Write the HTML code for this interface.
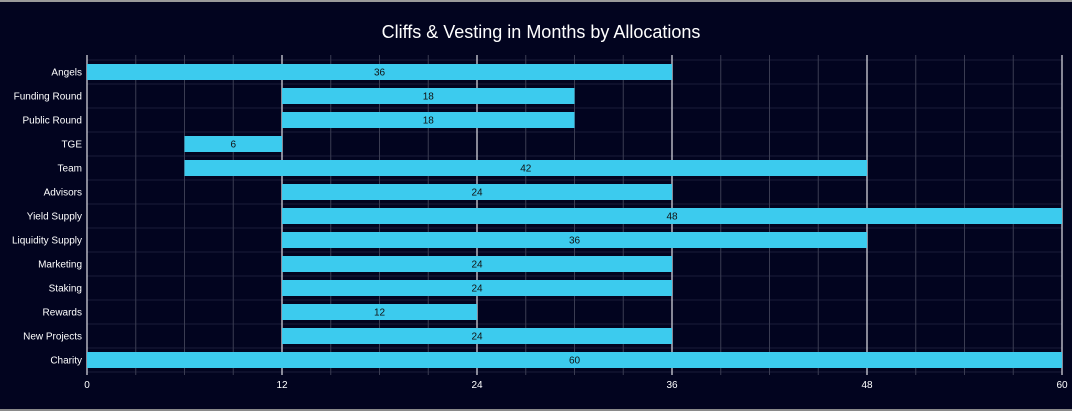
<!DOCTYPE html><html><head><style>body{margin:0;background:#02041f;}svg{display:block}</style></head><body>
<svg width="1072" height="411" xmlns="http://www.w3.org/2000/svg" font-family="Liberation Sans, sans-serif">
<rect width="1072" height="411" fill="#02041f"/>
<rect width="1072" height="2" fill="#9a9a9a"/>
<rect y="409" width="1072" height="2" fill="#8a8a8a"/>
<text x="541" y="38" fill="#fff" font-size="18" text-anchor="middle">Cliffs &amp; Vesting in Months by Allocations</text>
<g stroke="#1a1c3a">
<line x1="87" x2="1062" y1="60" y2="60"/><line x1="87" x2="1062" y1="84" y2="84"/><line x1="87" x2="1062" y1="108" y2="108"/><line x1="87" x2="1062" y1="132" y2="132"/><line x1="87" x2="1062" y1="156" y2="156"/><line x1="87" x2="1062" y1="180" y2="180"/><line x1="87" x2="1062" y1="204" y2="204"/><line x1="87" x2="1062" y1="228" y2="228"/><line x1="87" x2="1062" y1="252" y2="252"/><line x1="87" x2="1062" y1="276" y2="276"/><line x1="87" x2="1062" y1="300" y2="300"/><line x1="87" x2="1062" y1="324" y2="324"/><line x1="87" x2="1062" y1="348" y2="348"/><line x1="87" x2="1062" y1="372" y2="372"/>
</g>
<g stroke="#3a3c52">
<line x1="135.75" x2="135.75" y1="55" y2="375"/><line x1="184.5" x2="184.5" y1="55" y2="375"/><line x1="233.25" x2="233.25" y1="55" y2="375"/>
<line x1="330.75" x2="330.75" y1="55" y2="375"/><line x1="379.5" x2="379.5" y1="55" y2="375"/><line x1="428.25" x2="428.25" y1="55" y2="375"/>
<line x1="525.75" x2="525.75" y1="55" y2="375"/><line x1="574.5" x2="574.5" y1="55" y2="375"/><line x1="623.25" x2="623.25" y1="55" y2="375"/>
<line x1="720.75" x2="720.75" y1="55" y2="375"/><line x1="769.5" x2="769.5" y1="55" y2="375"/><line x1="818.25" x2="818.25" y1="55" y2="375"/>
<line x1="915.75" x2="915.75" y1="55" y2="375"/><line x1="964.5" x2="964.5" y1="55" y2="375"/><line x1="1013.25" x2="1013.25" y1="55" y2="375"/>
</g>
<g stroke="#cfd0d8" stroke-width="1.3">
<line x1="87" x2="87" y1="55" y2="375"/><line x1="282" x2="282" y1="55" y2="375"/><line x1="477" x2="477" y1="55" y2="375"/><line x1="672" x2="672" y1="55" y2="375"/><line x1="867" x2="867" y1="55" y2="375"/><line x1="1062" x2="1062" y1="55" y2="375"/>
</g>
<g fill="#fff" font-size="10" text-anchor="middle">
<text x="87" y="388">0</text><text x="282" y="388">12</text><text x="477" y="388">24</text><text x="672" y="388">36</text><text x="867" y="388">48</text><text x="1062" y="388">60</text>
</g>
<g fill="#3ccbee">
<rect x="87" y="64" width="585" height="16"/>
<rect x="282" y="88" width="292.5" height="16"/>
<rect x="282" y="112" width="292.5" height="16"/>
<rect x="184.5" y="136" width="97.5" height="16"/>
<rect x="184.5" y="160" width="682.5" height="16"/>
<rect x="282" y="184" width="390" height="16"/>
<rect x="282" y="208" width="780" height="16"/>
<rect x="282" y="232" width="585" height="16"/>
<rect x="282" y="256" width="390" height="16"/>
<rect x="282" y="280" width="390" height="16"/>
<rect x="282" y="304" width="195" height="16"/>
<rect x="282" y="328" width="390" height="16"/>
<rect x="87" y="352" width="975" height="16"/>
</g>
<g fill="#fff" font-size="10" text-anchor="end">
<text x="82" y="75.5">Angels</text><text x="82" y="99.5">Funding Round</text><text x="82" y="123.5">Public Round</text><text x="82" y="147.5">TGE</text><text x="82" y="171.5">Team</text><text x="82" y="195.5">Advisors</text><text x="82" y="219.5">Yield Supply</text><text x="82" y="243.5">Liquidity Supply</text><text x="82" y="267.5">Marketing</text><text x="82" y="291.5">Staking</text><text x="82" y="315.5">Rewards</text><text x="82" y="339.5">New Projects</text><text x="82" y="363.5">Charity</text>
</g>
<g fill="#111" font-size="10" text-anchor="middle">
<text x="379.5" y="75.5">36</text><text x="428.25" y="99.5">18</text><text x="428.25" y="123.5">18</text><text x="233.25" y="147.5">6</text><text x="525.75" y="171.5">42</text><text x="477" y="195.5">24</text><text x="672" y="219.5">48</text><text x="574.5" y="243.5">36</text><text x="477" y="267.5">24</text><text x="477" y="291.5">24</text><text x="379.5" y="315.5">12</text><text x="477" y="339.5">24</text><text x="574.5" y="363.5">60</text>
</g>
</svg></body></html>
